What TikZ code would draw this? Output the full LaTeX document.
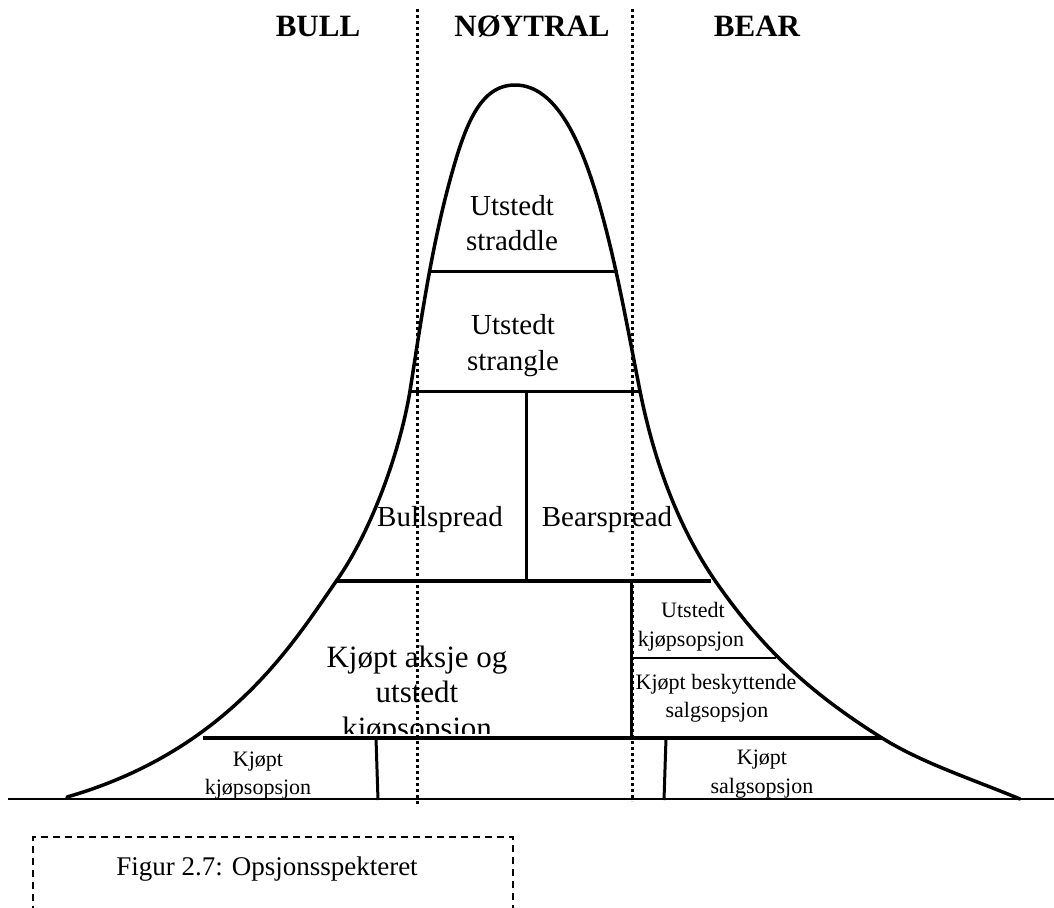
\documentclass[tikz,border=0pt]{standalone}
\usepackage{fontspec}
\setmainfont{Liberation Serif}
\begin{document}
\begin{tikzpicture}[x=1pt,y=-1pt,
  curve/.style={line width=3.5pt, line cap=round, line join=round},
  rule/.style={line width=3pt},
  thinrule/.style={line width=2pt},
  dotline/.style={line width=3pt, dash pattern=on 3pt off 3pt},
  capbox/.style={line width=1.3pt, dash pattern=on 7pt off 5pt},
  head/.style={font=\bfseries\fontsize{31}{36}\selectfont, anchor=base, inner sep=0},
  mid/.style={font=\fontsize{29}{34}\selectfont, anchor=base, inner sep=0},
  big/.style={font=\fontsize{31}{36}\selectfont, anchor=base, inner sep=0},
  small/.style={font=\fontsize{22}{26}\selectfont, anchor=base, inner sep=0}
]
\useasboundingbox (0,0) rectangle (1054,907);

% bell curve
\draw[curve] (67,797) .. controls (230,750) and (295,640) .. (337,580)
  .. controls (372,530) and (400,451) .. (410,391)
  .. controls (421,321) and (431,250) .. (450,180)
  .. controls (465,125) and (480,85) .. (515,85)
  .. controls (558,85) and (583,147) .. (600,207)
  .. controls (617,267) and (628,331) .. (640,391)
  .. controls (654,461) and (678,527) .. (716,582)
  .. controls (758,642) and (802,688) .. (882,738)
  .. controls (922,763) and (972,779) .. (1020,799);

% baseline
\coordinate (b0) at (8,799);
\coordinate (b1) at (1054,799);
\draw[thinrule] (b0) -- (b1);

% horizontal divisions
\coordinate (h1a) at (428,271); \coordinate (h1b) at (618,271);
\coordinate (h2a) at (410,391); \coordinate (h2b) at (639,391);
\coordinate (h3a) at (336,581); \coordinate (h3b) at (711,581);
\coordinate (h4a) at (631,658); \coordinate (h4b) at (776,658);
\coordinate (h5a) at (203,738); \coordinate (h5b) at (882,738);
\draw[rule] (h1a) -- (h1b);
\draw[rule] (h2a) -- (h2b);
\draw[rule, line width=3.5pt] (h3a) -- (h3b);
\draw[thinrule] (h4a) -- (h4b);
\draw[rule, line width=4pt] (h5a) -- (h5b);

% vertical divisions
\coordinate (v1a) at (526,391); \coordinate (v1b) at (526,581);
\coordinate (v2a) at (631,581); \coordinate (v2b) at (631,738);
\coordinate (v3a) at (376,738); \coordinate (v3b) at (378,800);
\coordinate (v4a) at (666,738); \coordinate (v4b) at (664,800);
\draw[rule] (v1a) -- (v1b);
\draw[rule] (v2a) -- (v2b);
\draw[rule] (v3a) -- (v3b);
\draw[rule] (v4a) -- (v4b);

% labels
\node[head] (bull) at (318,37) {BULL};
\node[head] (noy) at (532,37) {NØYTRAL};
\node[head] (bear) at (757,37) {BEAR};

\node[mid] (us1) at (512,215) {Utstedt};
\node[mid] (us2) at (512,250) {straddle};
\node[mid] (ug1) at (513,334) {Utstedt};
\node[mid] (ug2) at (513,370) {strangle};
\node[mid] (bulls) at (440,526) {Bullspread};
\node[mid] (bears) at (607,526) {Bearspread};

\begin{scope}
\clip (300,600) rectangle (625,733);
\node[big] (k1) at (417,667) {Kjøpt aksje og};
\node[big] (k2) at (417,702) {utstedt};
\node[big] (k3) at (417,738) {kjøpsopsjon};
\end{scope}

\node[small] (uk1) at (693,617) {Utstedt};
\node[small] (uk2) at (691,646) {kjøpsopsjon};
\node[small] (kb1) at (716,689) {Kjøpt beskyttende};
\node[small] (kb2) at (717,717) {salgsopsjon};
\node[small] (ks1) at (762,764) {Kjøpt};
\node[small] (ks2) at (762,793) {salgsopsjon};
\node[small] (kk1) at (258,766) {Kjøpt};
\node[small] (kk2) at (258,794) {kjøpsopsjon};

% dotted separators (drawn over)
\coordinate (d1a) at (417,9); \coordinate (d1b) at (417,806);
\coordinate (d2a) at (632,9); \coordinate (d2b) at (632,801);
\draw[dotline] (d1a) -- (d1b);
\draw[dotline] (d2a) -- (d2b);

% caption box
\begin{scope}
\clip (0,820) rectangle (1054,907);
\draw[capbox] (33,925) -- (33,837) -- (513,837) -- (513,925);
\end{scope}
\node[font=\fontsize{27}{32}\selectfont, anchor=base, inner sep=0] (cap) at (267,875) {Figur 2.7: Opsjonsspekteret};
\end{tikzpicture}
\end{document}
